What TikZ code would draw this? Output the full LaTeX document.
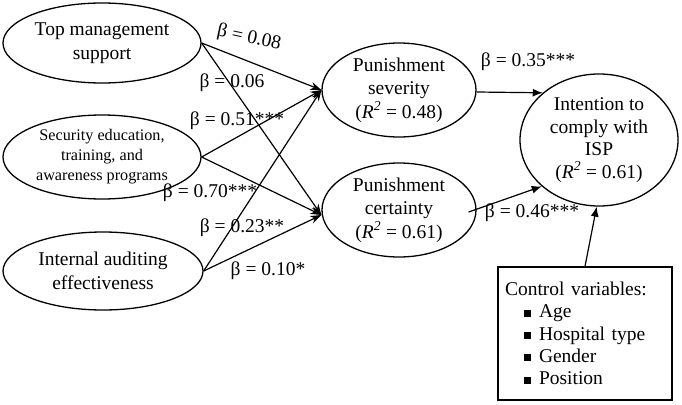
\documentclass[tikz,border=0pt]{standalone}
\usepackage{fontspec}
\setmainfont{Liberation Serif}
\usetikzlibrary{shapes.geometric,arrows.meta}
\begin{document}
\begin{tikzpicture}[x=1pt,y=-1pt,
  ell/.style={draw,line width=1.3pt,ellipse,inner sep=0pt,align=center,font=\fontsize{19.5}{23.5}\selectfont},
  lbl/.style={font=\fontsize{19.5}{22}\selectfont,inner sep=0pt},
  inarr/.style={line width=1.2pt,-{Stealth[length=11pt,width=8pt]}},
  outarr/.style={line width=1.2pt,-{Latex[length=10pt,width=8pt]}}]
\useasboundingbox (0,0) rectangle (682,404);
\node[ell,minimum width=198pt,minimum height=80pt] (tms) at (102,43) {Top management\\support};
\node[ell,minimum width=198pt,minimum height=84pt,font=\fontsize{16.2}{20}\selectfont] (seta) at (102,157) {Security education,\\training, and\\awareness programs};
\node[ell,minimum width=200pt,minimum height=78pt] (iae) at (103,271) {Internal auditing\\effectiveness};
\node[ell,minimum width=154pt,minimum height=94pt] (ps) at (399,90) {Punishment\\severity\\(\textit{R\textsuperscript{2}} = 0.48)};
\node[ell,minimum width=154pt,minimum height=94pt] (pc) at (399,210) {Punishment\\certainty\\(\textit{R\textsuperscript{2}} = 0.61)};
\node[ell,minimum width=158pt,minimum height=132pt,font=\fontsize{19.5}{22.5}\selectfont] (int) at (599,140) {Intention to\\comply with\\ISP\\(\textit{R\textsuperscript{2}} = 0.61)};
\node[draw,line width=1.3pt,minimum width=174pt,minimum height=133pt,text width=160pt,inner sep=7pt,align=left,font=\fontsize{19.5}{22.3}\selectfont] (ctrl) at (585,333.5)
 {Control variables:\\
  \hspace*{19pt}\rule[1pt]{7pt}{7pt}\hspace{8pt}Age\\
  \hspace*{19pt}\rule[1pt]{7pt}{7pt}\hspace{8pt}Hospital type\\
  \hspace*{19pt}\rule[1pt]{7pt}{7pt}\hspace{8pt}Gender\\
  \hspace*{19pt}\rule[1pt]{7pt}{7pt}\hspace{8pt}Position};
\coordinate (psin) at (ps.west);
\coordinate (pcin) at ([yshift=-5pt]pc.west);
\draw[inarr] (tms.east) -- (psin);
\draw[inarr] (tms.east) -- (pcin);
\draw[inarr] (seta.east) -- (psin);
\draw[inarr] (seta.east) -- (pcin);
\draw[inarr] (iae.east) -- (psin);
\draw[inarr] (iae.east) -- (pcin);
\draw[outarr] ([yshift=-2pt]ps.east) -- (int.140);
\draw[outarr] ([xshift=-8pt,yshift=-2pt]pc.east) -- (int.219);
\draw[outarr] (ctrl.north) -- (int.268);
\node[lbl,rotate=-12] (l1) at (249,38) {β = 0.08};
\node[lbl] (l2) at (232,83) {β = 0.06};
\node[lbl] (l3) at (237,121) {β = 0.51***};
\node[lbl] (l4) at (210,193) {β = 0.70***};
\node[lbl] (l5) at (242,228) {β = 0.23**};
\node[lbl] (l6) at (268,271) {β = 0.10*};
\node[lbl] (l7) at (528,62) {β = 0.35***};
\node[lbl] (l8) at (532,213) {β = 0.46***};
\end{tikzpicture}
\end{document}
